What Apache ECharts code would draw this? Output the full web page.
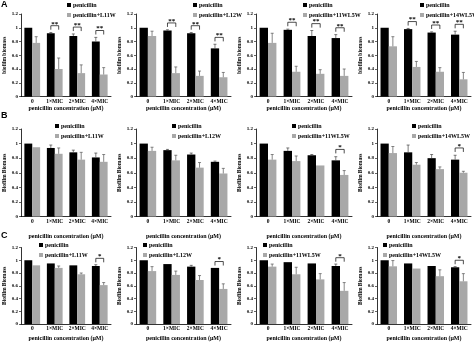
<!DOCTYPE html>
<html><head><meta charset="utf-8">
<script src="https://cdn.jsdelivr.net/npm/echarts@6/dist/echarts.min.js"></script>
<style>html,body{margin:0;padding:0;background:#fff}#c{width:474px;height:342px}</style>
</head><body><div id="c"></div>
<script>
const categories = ['0', '1×MIC', '2×MIC', '4×MIC'];
const peptides = ['L11W', 'L12W', '11WL5W', '14WL5W'];
const panelLetters = ['A', 'B', 'C'];
const yAxisTitles = ['biofilm biomass', 'Biofilm Biomass', 'Biofilm Biomass'];
const xAxisTitle = 'penicillin concentration (μM)';

const penicillinA = [[1, 0.92, 0.88, 0.80], [1, 0.96, 0.92, 0.70], [1, 0.97, 0.88, 0.85], [1, 0.98, 0.93, 0.90]];
const penicillinErrA = [[0, 0.01, 0.03, 0.06], [0, 0.01, 0.01, 0.06], [0, 0.01, 0.08, 0.05], [0, 0.01, 0.01, 0.05]];
const comboA = [[0.78, 0.40, 0.34, 0.32], [0.88, 0.34, 0.30, 0.28], [0.78, 0.36, 0.33, 0.30], [0.73, 0.43, 0.36, 0.25]];
const comboErrA = [[0.09, 0.16, 0.12, 0.10], [0.07, 0.09, 0.07, 0.07], [0.14, 0.08, 0.06, 0.10], [0.14, 0.08, 0.06, 0.10]];
const sigA = [['', '**', '**', '**'], ['', '**', '**', '**'], ['', '**', '**', '**'], ['', '**', '**', '**']];

const penicillinB = [[1, 0.94, 0.88, 0.81], [1, 0.91, 0.85, 0.75], [1, 0.90, 0.84, 0.77], [1, 0.88, 0.80, 0.78]];
const penicillinErrB = [[0, 0.04, 0.03, 0.06], [0, 0.01, 0.02, 0.01], [0, 0.04, 0.01, 0.05], [0, 0.10, 0.05, 0.06]];
const comboB = [[0.95, 0.86, 0.78, 0.75], [0.90, 0.77, 0.67, 0.59], [0.78, 0.76, 0.70, 0.57], [0.87, 0.71, 0.65, 0.60]];
const comboErrB = [[0, 0.08, 0.10, 0.10], [0.05, 0.07, 0.07, 0.07], [0.07, 0.07, 0, 0.06], [0.09, 0.03, 0.03, 0.02]];
const sigB = [['', '', '', ''], ['', '', '', ''], ['', '', '', '*'], ['', '', '', '*']];

const penicillinC = [[1, 0.95, 0.92, 0.91], [1, 0.94, 0.90, 0.88], [1, 0.97, 0.95, 0.91], [1, 0.95, 0.91, 0.89]];
const penicillinErrC = [[0, 0, 0, 0.02], [0, 0, 0.02, 0], [0, 0, 0, 0.03], [0, 0, 0, 0.01]];
const comboC = [[0.92, 0.88, 0.78, 0.61], [0.83, 0.77, 0.69, 0.55], [0.90, 0.78, 0.70, 0.52], [0.905, 0.87, 0.75, 0.67]];
const comboErrC = [[0, 0.03, 0.02, 0.04], [0.07, 0.06, 0.07, 0.08], [0.04, 0.11, 0.09, 0.13], [0.09, 0, 0.10, 0.12]];
const sigC = [['', '', '', '*'], ['', '', '', '*'], ['', '', '', '*'], ['', '', '', '*']];

const rowsData = [
  { pen: penicillinA, penErr: penicillinErrA, combo: comboA, comboErr: comboErrA, sig: sigA },
  { pen: penicillinB, penErr: penicillinErrB, combo: comboB, comboErr: comboErrB, sig: sigB },
  { pen: penicillinC, penErr: penicillinErrC, combo: comboC, comboErr: comboErrC, sig: sigC }
];

// layout
const colX = [[21, 111], [136, 231], [256, 352], [377, 471]];
const rowY = [[14, 96.5], [129, 216.5], [247.5, 324.5]];
const xNameGap = [8, 17, 11];
const legendPos = [
  [[67, 2], [193, 2], [303, 2], [420, 2]],
  [[55, 123], [172, 123], [292, 123], [412, 123]],
  [[39, 242], [143, 242], [263, 242], [383, 242]]
];
const letterTop = [0, 111, 231];

const FONT = 'Liberation Serif';
const BLACK = '#000000';
const GRAY = '#a8a8a8';
const HALF = 0.175; // bar center offset as fraction of band width

const grid = [], xAxis = [], yAxis = [], series = [], legend = [], title = [];

panelLetters.forEach((L, r) => {
  title.push({ text: L, left: 1, top: letterTop[r], padding: 0,
    textStyle: { fontFamily: 'Liberation Sans', fontWeight: 'bold', fontSize: 9, color: '#000' } });
});

function errorSeries(gi, values, errs, off, color) {
  return {
    type: 'custom', xAxisIndex: gi, yAxisIndex: gi, silent: true, z: 5, clip: false,
    data: values.map((v, i) => [i, v, errs[i]]),
    renderItem: function (params, api) {
      const i = api.value(0), v = api.value(1), e = api.value(2);
      if (!e) return { type: 'group', children: [] };
      const bw = api.size([1, 0])[0];
      const p0 = api.coord([i, v]);
      const p1 = api.coord([i, v + e]);
      const x = p0[0] + off * bw;
      const st = { stroke: color, lineWidth: 0.7 };
      return { type: 'group', children: [
        { type: 'line', shape: { x1: x, y1: p0[1], x2: x, y2: p1[1] }, style: st },
        { type: 'line', shape: { x1: x - 1.5, y1: p1[1], x2: x + 1.5, y2: p1[1] }, style: st }
      ] };
    }
  };
}

rowsData.forEach((rd, r) => {
  peptides.forEach((pep, c) => {
    const gi = r * 4 + c;
    grid.push({ left: colX[c][0], width: colX[c][1] - colX[c][0], top: rowY[r][0], height: rowY[r][1] - rowY[r][0] });
    xAxis.push({
      type: 'category', gridIndex: gi, data: categories,
      axisLine: { lineStyle: { color: '#000', width: 0.8 } },
      axisTick: { show: false },
      axisLabel: { fontFamily: FONT, fontWeight: 'bold', fontSize: 5.5, color: '#000', margin: 2, interval: 0 },
      name: xAxisTitle, nameLocation: 'middle', nameGap: xNameGap[r],
      nameTextStyle: { fontFamily: FONT, fontWeight: 'bold', fontSize: 6, color: '#000' }
    });
    yAxis.push({
      type: 'value', gridIndex: gi, min: 0, max: 1.2, interval: 0.2,
      axisLine: { show: true, lineStyle: { color: '#000', width: 0.8 } },
      axisTick: { show: true, length: 2, lineStyle: { color: '#000', width: 0.6 } },
      splitLine: { show: false },
      axisLabel: { fontFamily: FONT, fontWeight: 'bold', fontSize: 5, color: '#000', margin: 3 },
      name: yAxisTitles[r], nameLocation: 'middle', nameRotate: 90, nameGap: 11,
      nameTextStyle: { fontFamily: FONT, fontWeight: 'bold', fontSize: 5.5, color: '#000' }
    });
    const comboName = 'penicillin+' + pep;
    series.push({ type: 'bar', name: 'penicillin', xAxisIndex: gi, yAxisIndex: gi, data: rd.pen[c],
      barWidth: '35%', barGap: '0%', itemStyle: { color: BLACK }, silent: true });
    series.push({ type: 'bar', name: comboName, xAxisIndex: gi, yAxisIndex: gi, data: rd.combo[c],
      barWidth: '35%', barGap: '0%', itemStyle: { color: GRAY }, silent: true });
    series.push(errorSeries(gi, rd.pen[c], rd.penErr[c], -HALF, '#444'));
    series.push(errorSeries(gi, rd.combo[c], rd.comboErr[c], HALF, '#555'));
    const sigs = rd.sig[c];
    const bracketData = [];
    sigs.forEach((s, i) => {
      if (s) {
        const top = Math.max(rd.pen[c][i] + rd.penErr[c][i], rd.combo[c][i] + rd.comboErr[c][i]) + 0.1;
        bracketData.push([i, top]);
      }
    });
    series.push({
      type: 'custom', xAxisIndex: gi, yAxisIndex: gi, silent: true, z: 6, clip: false,
      data: bracketData,
      renderItem: function (params, api) {
        const i = api.value(0), t = api.value(1);
        const bw = api.size([1, 0])[0];
        const p = api.coord([i, t]);
        const xl = p[0] - HALF * bw, xr = p[0] + HALF * bw;
        return { type: 'group', children: [
          { type: 'polyline', shape: { points: [[xl, p[1] + 4], [xl, p[1]], [xr, p[1]], [xr, p[1] + 4]] },
            style: { stroke: '#000', lineWidth: 0.7, fill: null } },
          { type: 'text', style: { text: sigs[i], x: p[0], y: p[1] + 1.5, textAlign: 'center', align: 'center',
            textVerticalAlign: 'bottom', verticalAlign: 'bottom', font: 'bold 7px "Liberation Serif"', fill: '#000' } }
        ] };
      }
    });
    legend.push({
      orient: 'vertical', left: legendPos[r][c][0], top: legendPos[r][c][1], padding: 0,
      itemWidth: 4, itemHeight: 4, itemGap: 4, icon: 'rect', selectedMode: false,
      data: ['penicillin', comboName],
      textStyle: { fontFamily: FONT, fontWeight: 'bold', fontSize: 6, color: '#000', padding: [0, 0, 0, -3] }
    });
  });
});

const chart = echarts.init(document.getElementById('c'), null, { renderer: 'canvas' });
chart.setOption({ animation: false, backgroundColor: '#fff', title, grid, xAxis, yAxis, legend, series });
</script></body></html>
